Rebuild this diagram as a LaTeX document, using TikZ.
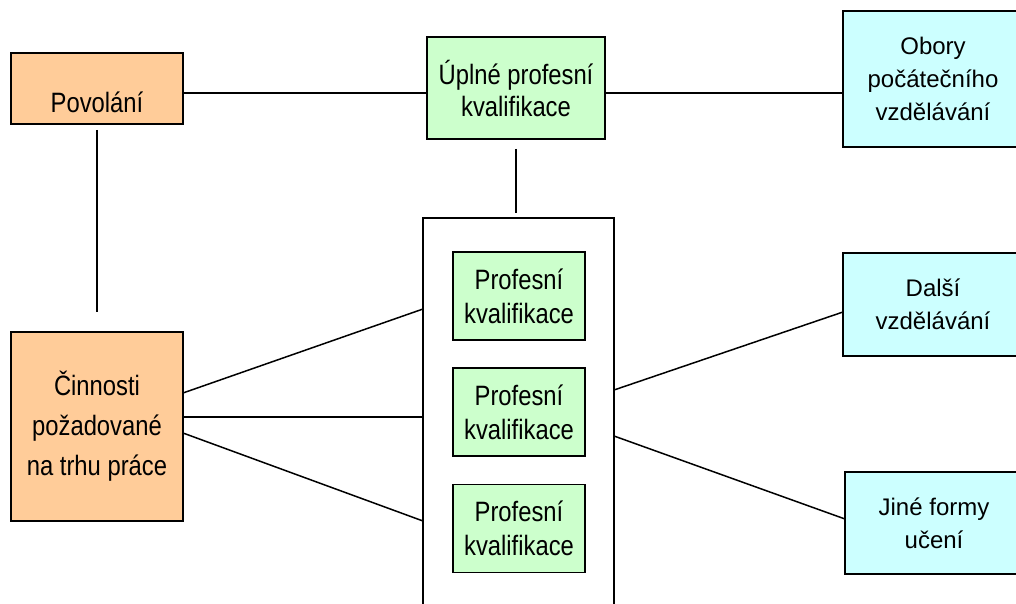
\documentclass[tikz,border=0pt]{standalone}
\usepackage{fontspec}
\setmainfont{Liberation Sans}
\newfontfamily\tallsf[FakeStretch=0.85]{Liberation Sans}
\definecolor{jobfill}{HTML}{FFCC99}
\definecolor{qualfill}{HTML}{CCFFCC}
\definecolor{learnfill}{HTML}{CCFFFF}

\begin{document}
\begin{tikzpicture}[x=1pt, y=1pt,
    box/.style = {draw, line width=1.5pt, inner sep=0pt, outer sep=0pt, align=center},
    job/.style = {box, fill=jobfill, font=\tallsf\fontsize{28}{40}\selectfont},
    qual/.style = {box, fill=qualfill, font=\tallsf\fontsize{28}{34}\selectfont},
    learn/.style = {box, fill=learnfill, font=\fontsize{24}{33}\selectfont},
    link/.style = {line width=1.5pt}]
		\useasboundingbox (0,0) rectangle (1016,603);
		\clip (0,0) rectangle (1016,603);
		
		\node (pov) at (97,514.5) [job, minimum width=172pt, minimum height=71pt] {\raisebox{-14pt}[\height][\depth]{Povolání}};
		\node (upk) at (516,515) [qual, minimum width=178pt, minimum height=102pt, font=\tallsf\fontsize{28}{32}\selectfont] {Úplné profesní\\kvalifikace};
		\node (obory) at (933,524) [learn, minimum width=180pt, minimum height=136pt] {Obory\\počátečního\\vzdělávání};
		
		\node (cin) at (97,176.5) [job, minimum width=172pt, minimum height=189pt] {Činnosti\\požadované\\na trhu práce};
		\node (frame) at (518.5,169) [box, fill=white, minimum width=191pt, minimum height=432pt] {};
		\foreach \i/\y in {1/307, 2/191, 3/74.5}
			\node (pk\i) at (519,\y) [qual, minimum width=132pt, minimum height=88pt] {Profesní\\kvalifikace};
		
		\node (dalsi) at (933,298.5) [learn, minimum width=180pt, minimum height=103pt] {Další\\vzdělávání};
		\node (jine) at (934,80) [learn, minimum width=178pt, minimum height=102pt] {Jiné formy\\učení};
		
		\draw [link] ([yshift=-4.5pt]pov.east) -- ([yshift=-4.5pt]pov.east -| upk.west);
		\draw [link] ([yshift=-5pt]upk.east) -- ([yshift=-5pt]upk.east -| obory.west);
		\draw [link] ([yshift=-6pt]pov.south) -- ([yshift=20pt]cin.north);
		\draw [link] ([yshift=-10pt]upk.south) -- ([yshift=5pt]upk.south |- frame.north);
		
		\draw [link] ([yshift=33.5pt]cin.east) -- ([yshift=125pt]frame.west);
		\draw [link] ([yshift=9.5pt]cin.east) -- ([yshift=17pt]frame.west);
		\draw [link] ([yshift=-6.5pt]cin.east) -- ([yshift=-87pt]frame.west);
		\draw [link] ([yshift=44pt]frame.east) -- ([yshift=-7.5pt]dalsi.west);
		\draw [link] ([yshift=-2pt]frame.east) -- ([yshift=4pt]jine.west);
		\end{tikzpicture}
\end{document}
